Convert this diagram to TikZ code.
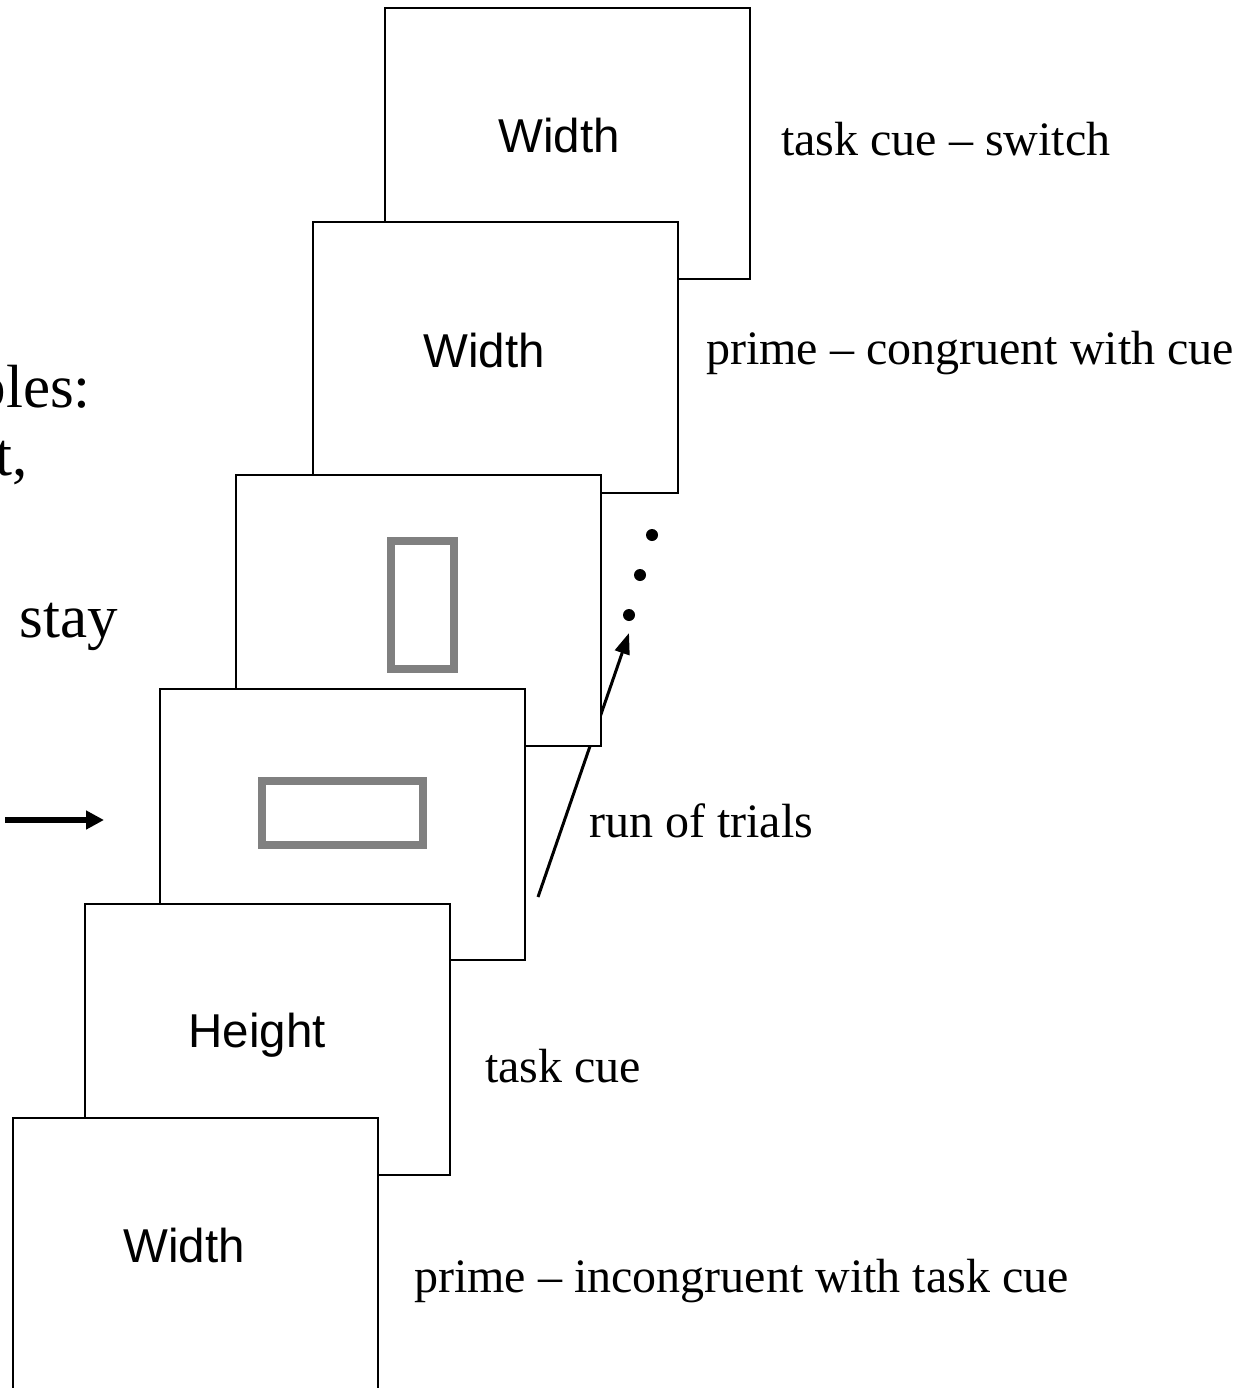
\documentclass[tikz,border=0pt]{standalone}
\usepackage{fontspec}
\setmainfont{Liberation Serif}
\newfontfamily\cardfont{Liberation Sans}
\usetikzlibrary{arrows.meta}

\tikzset{
  card/.style={draw=black, line width=1.6pt, fill=white, anchor=north west,
    minimum width=365pt, minimum height=271pt, inner sep=0pt, outer sep=0pt},
  cardword/.style={font=\cardfont\fontsize{47.5}{56}\selectfont, anchor=base, inner sep=0pt},
  caption/.style={font=\fontsize{48}{57}\selectfont, anchor=base west, inner sep=0pt},
  slidetext/.style={font=\fontsize{61}{72}\selectfont, anchor=base east, inner sep=0pt},
  stimulus/.style={draw=black!50, line width=8pt},
  trialdot/.style={circle, fill=black, minimum size=12pt, inner sep=0pt},
}

\begin{document}
\begin{tikzpicture}[x=1pt, y=-1pt]
  \useasboundingbox (0,0) rectangle (1255,1388);
  \clip (0,0) rectangle (1255,1388);

  % text of the slide, running off the left edge
  \node[slidetext] (t1) at (91,407) {bles:};
  \node[slidetext] (t2) at (28,475) {t,};
  \node[slidetext] (t3) at (118,637) {stay};
  \coordinate (arrowtail) at (5,820);
  \coordinate (arrowhead) at (104,820);
  \draw[line width=5.5pt, -{Triangle[length=18pt,width=18pt]}] (arrowtail) -- (arrowhead);

  % arrow for the run of trials, partly hidden behind the screens
  \coordinate (runstart) at (538,897);
  \coordinate (runend) at (629,633);
  \draw[line width=3pt, -{Triangle[length=21pt,width=15pt]}] (runstart) -- (runend);

  % the sequence of screens, each one lying over the previous one
  \node[card] (s1) at (385,8) {};
  \node[cardword] (w1) at ([shift={(174,145)}]s1.north west) {Width};

  \node[card] (s2) at (313,222) {};
  \node[cardword] (w2) at ([shift={(171,145)}]s2.north west) {Width};

  \node[card] (s3) at (236,475) {};
  \draw[stimulus] (391,541) rectangle (454,669);

  \node[card] (s4) at (160,689) {};
  \draw[stimulus] (262,781) rectangle (423,845);

  \node[card] (s5) at (85,904) {};
  \node[cardword] (w5) at ([shift={(172,143)}]s5.north west) {Height};

  \node[card] (s6) at (13,1118) {};
  \node[cardword] (w6) at ([shift={(171,144)}]s6.north west) {Width};

  % dots marking further trials
  \node[trialdot] (d1) at (652,535) {};
  \node[trialdot] (d2) at (640,575) {};
  \node[trialdot] (d3) at (629,615) {};

  % captions
  \node[caption] (c1) at (781,156) {task cue -- switch};
  \node[caption] (c2) at (706,364) {prime -- congruent with cue};
  \node[caption] (c3) at (589,837) {run of trials};
  \node[caption] (c4) at (485,1082) {task cue};
  \node[caption] (c5) at (414,1292) {prime -- incongruent with task cue};
\end{tikzpicture}
\end{document}
